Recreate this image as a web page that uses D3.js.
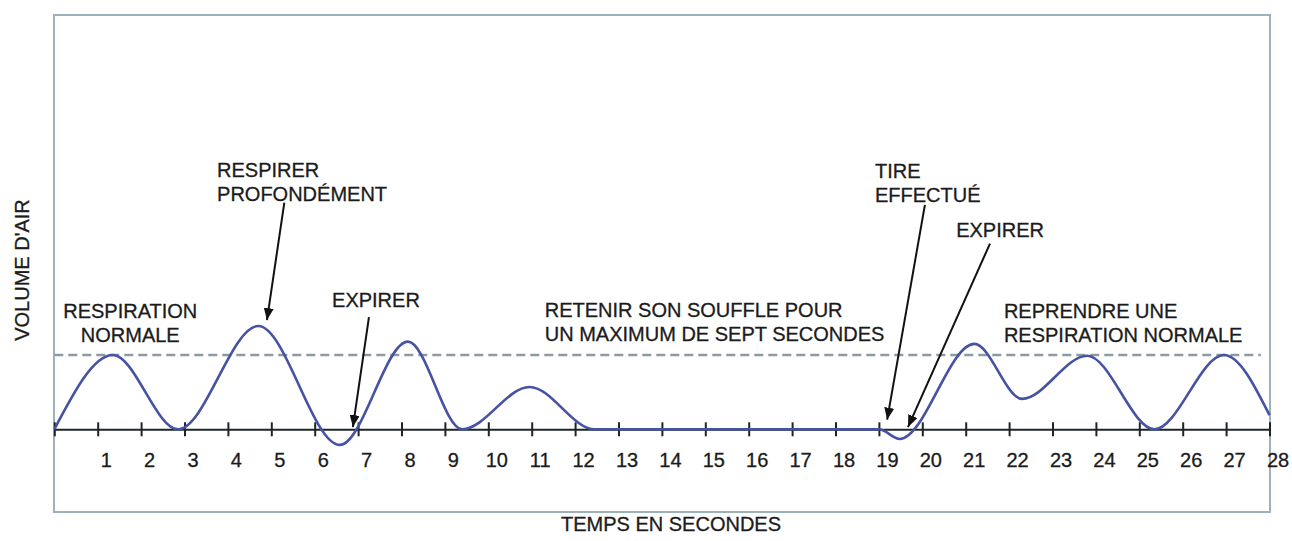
<!DOCTYPE html>
<html>
<head>
<meta charset="utf-8">
<script src="https://cdn.jsdelivr.net/npm/d3@7"></script>
<style>
  body { margin: 0; background: #fff; }
  text { font-family: "Liberation Sans", Arial, sans-serif; fill: #1b1b1b; stroke: #1b1b1b; stroke-width: 0.3px; }
</style>
</head>
<body>
<div id="chart"></div>
<script>
// Breathing curve: time (s) and relative air volume (1 = normal breath level)
const times   = [0, 1.35, 2.85, 4.7, 6.58, 8.15, 9.4, 10.95, 12.45, 19.0, 19.48, 21.2, 22.3, 23.8, 25.35, 26.95, 28];
const volumes = [0, 1.0, 0, 1.39, -0.21, 1.18, 0.0, 0.57, 0, 0, -0.13, 1.15, 0.41, 0.99, 0, 1.0, 0.19];
const tickValues = d3.range(0, 29);
const normalLevel = 1.0;

const xTitle = "TEMPS EN SECONDES";
const yTitle = "VOLUME D'AIR";

// Annotation texts, anchored in data coordinates
const annotations = [
  { lines: ["RESPIRATION", "NORMALE"], t: 1.75, v: 1.50, anchor: "middle" },
  { lines: ["RESPIRER", "PROFONDÉMENT"], t: 3.75, v: 3.39, anchor: "start" },
  { lines: ["EXPIRER"], t: 6.40, v: 1.64, anchor: "start" },
  { lines: ["RETENIR SON SOUFFLE POUR", "UN MAXIMUM DE SEPT SECONDES"], t: 11.3, v: 1.51, anchor: "start" },
  { lines: ["TIRE", "EFFECTUÉ"], t: 18.91, v: 3.38, anchor: "start" },
  { lines: ["EXPIRER"], t: 20.78, v: 2.59, anchor: "start" },
  { lines: ["REPRENDRE UNE", "RESPIRATION NORMALE"], t: 21.88, v: 1.50, anchor: "start" }
];
// Arrows: from (t0, v0) to tip (t1, v1)
const arrows = [
  { t0: 5.30, v0: 3.05, t1: 4.90, v1: 1.47 },
  { t0: 7.25, v0: 1.51, t1: 6.88, v1: 0.03 },
  { t0: 20.06, v0: 3.02, t1: 19.19, v1: 0.13 },
  { t0: 21.56, v0: 2.50, t1: 19.67, v1: 0.03 }
];

const width = 1292, height = 541;
const frame = { left: 54, top: 15, right: 1270, bottom: 512 };

const svg = d3.select("#chart").append("svg")
  .attr("width", width)
  .attr("height", height);

const x = d3.scaleLinear().domain([0, 28]).range([54.3, 1269.5]);
const y = d3.scaleLinear().domain([-1.113, 5.576]).range([frame.bottom, frame.top]);

// Frame
svg.append("rect")
  .attr("x", frame.left).attr("y", frame.top)
  .attr("width", frame.right - frame.left)
  .attr("height", frame.bottom - frame.top)
  .attr("fill", "#fff")
  .attr("stroke", "#9db1bb")
  .attr("stroke-width", 2);

// Normal breathing level (dashed)
svg.append("line")
  .attr("x1", x(0)).attr("x2", x(27.8))
  .attr("y1", y(normalLevel)).attr("y2", y(normalLevel))
  .attr("stroke", "#8b9ba3")
  .attr("stroke-width", 2.5)
  .attr("stroke-dasharray", "9,5");

// X axis with ticks crossing the line
const axis = svg.append("g")
  .attr("transform", `translate(0,${y(0)})`)
  .call(d3.axisBottom(x)
    .tickValues(tickValues)
    .tickSizeOuter(0)
    .tickFormat(d => d === 0 ? "" : d));
axis.select(".domain").attr("stroke", "#1e2428").attr("stroke-width", 2);
axis.selectAll(".tick line")
  .attr("y1", -7).attr("y2", 7)
  .attr("stroke", "#1e2428").attr("stroke-width", 2);
axis.selectAll(".tick text")
  .attr("x", 8).attr("y", 38).attr("dy", 0)
  .style("font-size", "20px")
  .style("font-family", "'Liberation Sans', Arial, sans-serif")
  .attr("fill", "#1b1b1b");

// Breathing curve
const pts = times.map((t, i) => [t, volumes[i]]);
const line = d3.line()
  .x(d => x(d[0]))
  .y(d => y(d[1]))
  .curve(d3.curveMonotoneX);
svg.append("path")
  .datum(pts)
  .attr("d", line)
  .attr("fill", "none")
  .attr("stroke", "#4652a2")
  .attr("stroke-width", 2.6)
  .attr("stroke-linejoin", "round");

// Arrows
svg.append("defs").append("marker")
  .attr("id", "head")
  .attr("viewBox", "0 0 12 10")
  .attr("refX", 12).attr("refY", 5)
  .attr("markerWidth", 12).attr("markerHeight", 10)
  .attr("markerUnits", "userSpaceOnUse")
  .attr("orient", "auto")
  .append("path")
  .attr("d", "M0,0 L12,5 L0,10 Z")
  .attr("fill", "#111");

svg.append("g").selectAll("line")
  .data(arrows)
  .join("line")
  .attr("x1", d => x(d.t0)).attr("y1", d => y(d.v0))
  .attr("x2", d => x(d.t1)).attr("y2", d => y(d.v1))
  .attr("stroke", "#111")
  .attr("stroke-width", 2)
  .attr("marker-end", "url(#head)");

// Annotation texts
const ann = svg.append("g").selectAll("text")
  .data(annotations)
  .join("text")
  .attr("x", d => x(d.t))
  .attr("y", d => y(d.v))
  .attr("text-anchor", d => d.anchor)
  .style("font-size", "20px");
ann.selectAll("tspan")
  .data(d => d.lines.map((l, i) => ({ l, i, t: d.t })))
  .join("tspan")
  .attr("x", d => x(d.t))
  .attr("dy", d => d.i === 0 ? 0 : 24)
  .text(d => d.l);

// Axis titles
svg.append("text")
  .attr("x", 671).attr("y", 531)
  .attr("text-anchor", "middle")
  .style("font-size", "20px")
  .text(xTitle);

svg.append("text")
  .attr("transform", "translate(29,270) rotate(-90)")
  .attr("text-anchor", "middle")
  .style("font-size", "20px")
  .text(yTitle);
</script>
</body>
</html>
